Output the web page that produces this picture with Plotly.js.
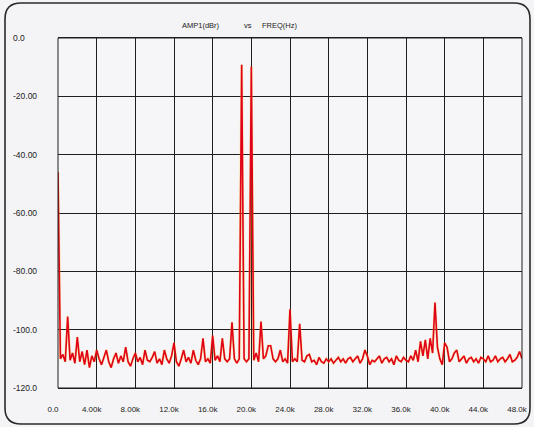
<!DOCTYPE html>
<html>
<head>
<meta charset="utf-8">
<script src="https://cdn.plot.ly/plotly-3.0.1.min.js"></script>
<style>
html,body{margin:0;padding:0;background:#f4f4f6;}
#chart{width:534px;height:427px;}
</style>
</head>
<body>
<div id="chart"></div>
<script>
// Spectrum bins: first bin frequency and bin width (Hz)
var BIN_START_HZ = 0;
var BIN_WIDTH_HZ = 250;

// Amplitude (dBr) per bin, 0 Hz .. 48 kHz in 250 Hz steps
var amplitudeDbr = [
  -46, -110, -108.5, -111,            // 0.00 - 0.75k
  -95.5, -110.5, -108, -111.5,        // 1k
  -102.5, -111, -107.5, -112,         // 2k
  -107, -113, -109, -111,             // 3k
  -107, -110, -112, -109.5,           // 4k
  -107, -111, -113, -110,             // 5k
  -108, -111.5, -109, -111,           // 6k
  -106, -111, -112.5, -110,           // 7k
  -108, -111, -109.5, -112,           // 8k
  -107, -110.5, -111, -109.5,         // 9k
  -107.5, -111.5, -110, -112,         // 10k
  -107, -110, -111.5, -109,           // 11k
  -104.5, -111, -112.5, -110,         // 12k
  -107, -111, -109.5, -111.5,         // 13k
  -107, -110.5, -112, -110,           // 14k
  -103, -111, -110, -111.5,           // 15k
  -102, -110.5, -109, -111,           // 16k
  -103, -110, -111, -110,             // 17k
  -97.5, -110, -111.5, -110,          // 18k
  -9.2, -110, -111, -110,             // 19k
  -9.8, -110.5, -108, -111,           // 20k
  -97.2, -110, -109, -105.5,          // 21k
  -105.5, -110, -111, -110,           // 22k
  -107, -111, -110, -111.5,           // 23k
  -93, -111, -110, -111,              // 24k
  -98, -110.5, -111, -109,            // 25k
  -108.5, -111, -110.5, -112,         // 26k
  -109.5, -111, -111.5, -110,         // 27k
  -111, -110, -111.5, -110.5,         // 28k
  -109.5, -111, -110, -111.5,         // 29k
  -110, -109.5, -111, -110,           // 30k
  -109, -111.5, -110, -107,           // 31k
  -109, -112, -110.5, -111,           // 32k
  -110, -109, -111.5, -110,           // 33k
  -109.5, -111, -110, -112,           // 34k
  -109, -110.5, -111, -109.5,         // 35k
  -110.5, -111, -109, -110.5,         // 36k
  -107, -111, -104, -109,             // 37k
  -103.5, -110, -103, -108,           // 38k
  -90.7, -106, -110, -112,            // 39k
  -104.5, -106, -111, -110,           // 40k
  -108, -107, -111, -110,             // 41k
  -109, -111.5, -110, -109.5,         // 42k
  -111, -110, -111.5, -109.5,         // 43k
  -110, -111, -109, -111,             // 44k
  -110.5, -109, -111, -110,           // 45k
  -109.5, -111, -110, -108.5,         // 46k
  -111, -110.5, -109.5, -107.5,       // 47k
  -110                                // 48k
];

var xTickVals = [0, 4000, 8000, 12000, 16000, 20000, 24000, 28000, 32000, 36000, 40000, 44000, 48000];
var xTickText = ["0.0", "4.00k", "8.00k", "12.0k", "16.0k", "20.0k", "24.0k", "28.0k", "32.0k", "36.0k", "40.0k", "44.0k", "48.0k"];
var yTickVals = [0, -20, -40, -60, -80, -100, -120];
var yTickText = ["0.0", "-20.00", "-40.00", "-60.00", "-80.00", "-100.0", "-120.0"];

var titleText = "AMP1(dBr)\u00a0\u00a0\u00a0\u00a0\u00a0\u00a0\u00a0\u00a0\u00a0\u00a0\u00a0\u00a0vs\u00a0\u00a0\u00a0\u00a0\u00a0FREQ(Hz)";

// layout geometry (pixels)
var W = 534, H = 427;
var M = {l: 10, r: 12, t: 38, b: 39};
var plotLeftPx = 58;
var pw = W - M.l - M.r, ph = H - M.t - M.b;
function px2x(p){ return (p - M.l) / pw; }
function py2y(p){ return 1 - (p - M.t) / ph; }

// rounded frame around the chart
var fx0 = 5, fy0 = 3, fx1 = 530, fy1 = 424, rad = 16;
var framePath =
  "M " + px2x(fx0 + rad) + "," + py2y(fy0) +
  " L " + px2x(fx1 - rad) + "," + py2y(fy0) +
  " Q " + px2x(fx1) + "," + py2y(fy0) + " " + px2x(fx1) + "," + py2y(fy0 + rad) +
  " L " + px2x(fx1) + "," + py2y(fy1 - rad) +
  " Q " + px2x(fx1) + "," + py2y(fy1) + " " + px2x(fx1 - rad) + "," + py2y(fy1) +
  " L " + px2x(fx0 + rad) + "," + py2y(fy1) +
  " Q " + px2x(fx0) + "," + py2y(fy1) + " " + px2x(fx0) + "," + py2y(fy1 - rad) +
  " L " + px2x(fx0) + "," + py2y(fy0 + rad) +
  " Q " + px2x(fx0) + "," + py2y(fy0) + " " + px2x(fx0 + rad) + "," + py2y(fy0) + " Z";

var font = "Liberation Sans, Arial, sans-serif";

var traces = [
  {
    type: "scatter", mode: "lines",
    x0: BIN_START_HZ, dx: BIN_WIDTH_HZ, y: amplitudeDbr,
    line: {color: "rgba(255,190,0,0.35)", width: 2.6},
    hoverinfo: "skip", showlegend: false
  },
  {
    type: "scatter", mode: "lines",
    x0: BIN_START_HZ, dx: BIN_WIDTH_HZ, y: amplitudeDbr,
    line: {color: "#e0001a", width: 1.6},
    showlegend: false
  }
];

var layout = {
  width: W, height: H,
  margin: M,
  paper_bgcolor: "#f4f4f6",
  plot_bgcolor: "#f6f6f8",
  font: {family: font, color: "#222", size: 8.5},
  showlegend: false,
  title: {
    text: titleText,
    xref: "container", x: 182 / W, xanchor: "left",
    yref: "container", y: 1 - 25 / H, yanchor: "middle",
    font: {family: font, size: 7.5, color: "#222"}
  },
  xaxis: {
    domain: [px2x(plotLeftPx), 1],
    range: [0, 48000],
    tickvals: xTickVals, ticktext: xTickText,
    showgrid: true, gridcolor: "#1e1e1e", gridwidth: 1,
    showline: true, mirror: true, linecolor: "#1e1e1e", linewidth: 1,
    zeroline: false, ticks: "",
    ticklabelstandoff: 13, ticklabelshift: -5,
    tickfont: {family: font, size: 8, color: "#222"}
  },
  yaxis: {
    range: [-120, 0],
    anchor: "free", position: 0, side: "right",
    tickvals: yTickVals, ticktext: yTickText,
    showgrid: true, gridcolor: "#1e1e1e", gridwidth: 1,
    showline: false, zeroline: false, ticks: "",
    ticklabelstandoff: 2,
    tickfont: {family: font, size: 8.5, color: "#222"}
  },
  shapes: [
    {type: "rect", xref: "x domain", yref: "y domain", x0: 0, x1: 1, y0: 0, y1: 1,
     line: {color: "#1e1e1e", width: 1}, layer: "above"},
    {type: "path", xref: "paper", yref: "paper", path: framePath,
     line: {color: "#2a2a2a", width: 1.6}, layer: "below"}
  ]
};

Plotly.newPlot("chart", traces, layout, {displayModeBar: false, staticPlot: true});
</script>
</body>
</html>
